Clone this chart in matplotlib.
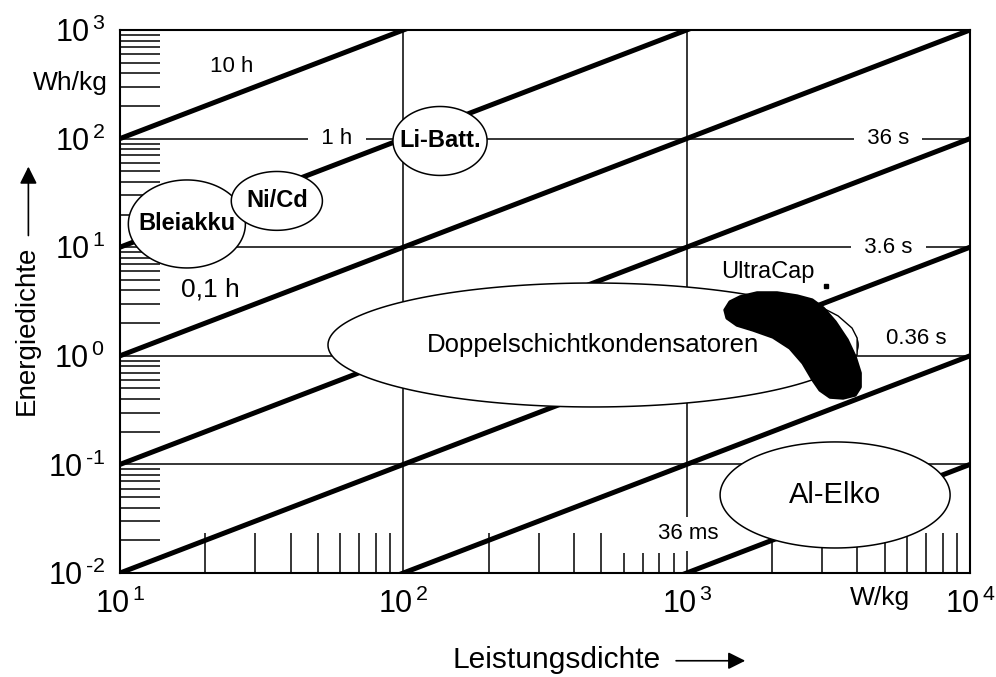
import numpy as np
import matplotlib
matplotlib.use("Agg")
import matplotlib.pyplot as plt
from matplotlib import font_manager
from matplotlib.font_manager import FontProperties
from matplotlib.ticker import FixedLocator, NullFormatter, FuncFormatter


def pick_font(*names):
    for n in names:
        try:
            font_manager.findfont(FontProperties(family=[n]), fallback_to_default=False)
            return n
        except ValueError:
            pass
    return "DejaVu Sans"


SANS = pick_font("Liberation Sans", "Arimo")

plt.rcParams["font.family"] = [SANS, "DejaVu Sans"]
plt.rcParams["mathtext.fontset"] = "custom"
plt.rcParams["mathtext.rm"] = SANS
plt.rcParams["mathtext.it"] = SANS + ":italic"
plt.rcParams["mathtext.bf"] = SANS + ":bold"

# ---- data -------------------------------------------------------------
x_lim = [10, 1e4]          # Leistungsdichte W/kg
y_lim = [1e-2, 1e3]        # Energiedichte Wh/kg

# lines of constant discharge time (hours): E = P * t
times_h = [10, 1, 0.1, 0.01, 0.001, 0.0001, 0.00001]
time_labels = ["10 h", "1 h", "0,1 h", "36 s", "3.6 s", "0.36 s", "36 ms"]

# technology regions (ranges)
tech_names = ["Bleiakku", "Ni/Cd", "Li-Batt.", "Doppelschichtkondensatoren", "Al-Elko"]
tech_P_min = [10.7, 24.7, 91.9, 54.2, 1312]
tech_P_max = [27.7, 51.8, 197.5, 4029, 8507]
tech_E_min = [6.44, 14.3, 45.8, 0.338, 0.0170]
tech_E_max = [41.6, 49.8, 197.5, 4.68, 0.161]

# UltraCap blob outline
ultracap_P = [1366, 1423, 1544, 1773, 2085, 2453, 2771, 3030, 3341, 3683, 3930, 4094,
              4094, 3930, 3565, 3208, 2957, 2794, 2576, 2317, 2018, 1716, 1506, 1389]
ultracap_E = [2.64, 3.13, 3.48, 3.79, 3.79, 3.55, 3.26, 2.75, 2.05, 1.40, 0.975, 0.694,
              0.516, 0.436, 0.409, 0.417, 0.484, 0.599, 0.858, 1.18, 1.49, 1.73, 1.92, 2.23]
ultracap_edge_P = [3030, 3423, 3835, 3995, 3995, 3797]
ultracap_edge_E = [2.75, 2.33, 1.80, 1.46, 1.02, 0.975]

# minor ticks
x_minor_long = [20, 30, 40, 50, 60, 70, 80, 90, 200, 300, 400, 500,
                2000, 3000, 4000, 5000, 6000, 7000, 8000, 9000]
x_minor_short = [600, 700, 800, 900]
y_minor = [m * 10.0 ** d for d in range(-2, 3) for m in range(2, 10)]

# ---- figure -------------------------------------------------------------
fig = plt.figure(figsize=(9.96, 6.77), dpi=100)
ax = fig.add_axes([0.1205, 0.1536, 0.8534, 0.8021])
ax.set_xscale("log")
ax.set_yscale("log")
ax.set_xlim(x_lim)
ax.set_ylim(y_lim)

for s in ax.spines.values():
    s.set_linewidth(1.5)

ax.grid(True, which="major", color="black", lw=1.1)

# constant time lines
P_line = np.array(x_lim)
for t in times_h:
    ax.plot(P_line, P_line * t, color="black", lw=3.6, solid_capstyle="butt", zorder=2)

# ticks
ax.xaxis.set_major_locator(FixedLocator([10, 100, 1000, 10000]))
ax.yaxis.set_major_locator(FixedLocator([1e-2, 1e-1, 1, 10, 100, 1000]))
ax.xaxis.set_minor_locator(FixedLocator(x_minor_long))
ax.yaxis.set_minor_locator(FixedLocator(y_minor))
ax.xaxis.set_minor_formatter(NullFormatter())
ax.yaxis.set_minor_formatter(NullFormatter())


def decade(v, pos):
    n = int(round(np.log10(v)))
    exp = ("\u2010%d" % -n) if n < 0 else "%d" % n
    return r"$10^{\,%s}$" % exp


ax.xaxis.set_major_formatter(FuncFormatter(decade))
ax.yaxis.set_major_formatter(FuncFormatter(decade))
ax.tick_params(which="major", direction="in", length=0, labelsize=22)
ax.tick_params(axis="x", which="major", pad=11)
ax.tick_params(axis="y", which="major", pad=11)
ax.tick_params(which="minor", direction="in", length=29, width=1.1, color="black")
ax.vlines(x_minor_short, 0, 20 / 543, transform=ax.get_xaxis_transform(),
          color="black", lw=1.1, zorder=1.6)

# technology ellipses (drawn in log space)
theta = np.linspace(0, 2 * np.pi, 200)
for name, p0, p1, e0, e1 in zip(tech_names, tech_P_min, tech_P_max, tech_E_min, tech_E_max):
    cx, rx = (np.log10(p0) + np.log10(p1)) / 2, (np.log10(p1) - np.log10(p0)) / 2
    cy, ry = (np.log10(e0) + np.log10(e1)) / 2, (np.log10(e1) - np.log10(e0)) / 2
    ax.fill(10 ** (cx + rx * np.cos(theta)), 10 ** (cy + ry * np.sin(theta)),
            facecolor="white", edgecolor="black", lw=1.1, zorder=3)
    if name in ("Bleiakku", "Ni/Cd", "Li-Batt."):
        kw = dict(fontsize=17, fontweight="bold")
    elif name == "Al-Elko":
        kw = dict(fontsize=21)
    else:
        kw = dict(fontsize=18.5)
    ax.text(10 ** cx, 10 ** cy, name, ha="center", va="center", zorder=5, **kw)

# UltraCap
ax.fill(ultracap_edge_P, ultracap_edge_E, facecolor="white", edgecolor="black", lw=1.0, zorder=3.5)
ax.fill(ultracap_P, ultracap_E, facecolor="black", edgecolor="black", lw=2.5,
        joinstyle="round", zorder=4)
ax.text(1936, 5.91, "UltraCap", ha="center", va="center", fontsize=17, zorder=5)
ax.plot([3105], [4.39], "s", color="black", ms=2.2, zorder=5)

# time line labels
label_pos = [(24.8, 466), (58.3, 100), (20.8, 4.04), (5140, 100), (5140, 10), (6457, 1.43), (1012, 0.0229)]
for lab, (px, ey) in zip(time_labels, label_pos):
    size = 19 if lab == "0,1 h" else 16
    bbox = None
    if lab in ("1 h", "36 s", "3.6 s"):
        bbox = dict(boxstyle="square,pad=0.05", facecolor="white", edgecolor="none")
        lab = "  " + lab + "  "
    elif lab == "36 ms":
        bbox = dict(boxstyle="square,pad=0.3", facecolor="white", edgecolor="none")
    ax.text(px, ey, lab, ha="center", va="center", fontsize=size, bbox=bbox, zorder=5)

# units
ax.text(-0.015, 325, "Wh/kg", transform=ax.get_yaxis_transform(), ha="right", va="center",
        fontsize=19)
ax.text(4820, -0.046, "W/kg", transform=ax.get_xaxis_transform(), ha="center", va="center",
        fontsize=19)

# axis titles with arrows
fig.text(0.454, 0.025, "Leistungsdichte", ha="left", va="center", fontsize=21.5)
fig.add_artist(matplotlib.patches.FancyArrowPatch((0.676, 0.024), (0.751, 0.024),
               transform=fig.transFigure, arrowstyle="-|>", mutation_scale=26,
               lw=1.2, color="black"))
fig.text(0.027, 0.5126, "Energiedichte", ha="center", va="center", rotation=90, fontsize=20)
fig.add_artist(matplotlib.patches.FancyArrowPatch((0.0285, 0.648), (0.0285, 0.758),
               transform=fig.transFigure, arrowstyle="-|>", mutation_scale=26,
               lw=1.2, color="black"))

fig.savefig("out.png", dpi=100, facecolor="white")
